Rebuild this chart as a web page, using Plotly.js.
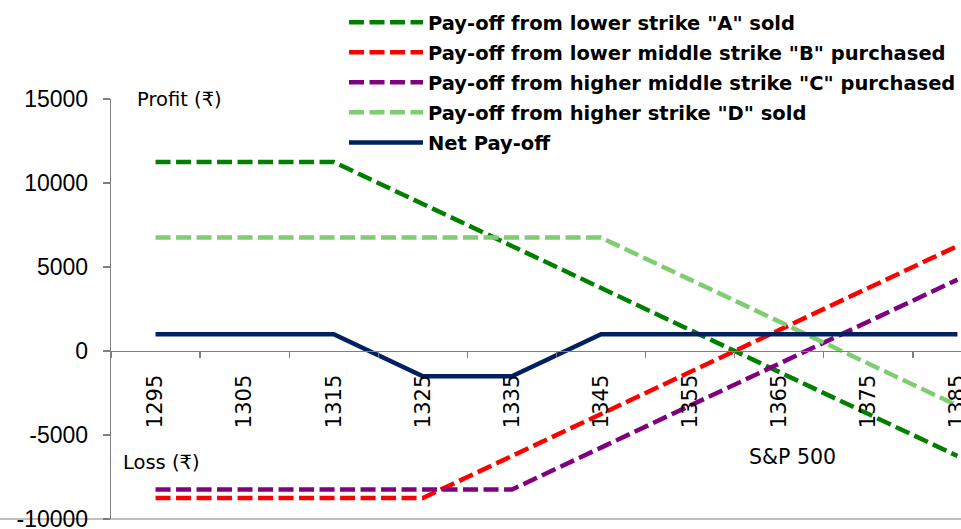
<!DOCTYPE html>
<html>
<head>
<meta charset="utf-8">
<script src="https://cdn.plot.ly/plotly-3.0.1.min.js"></script>
<style>html,body{margin:0;padding:0;background:#fff;overflow:hidden}</style>
</head>
<body>
<div id="chart" style="width:961px;height:529px"></div>
<script>
const strikes = ["1295","1305","1315","1325","1335","1345","1355","1365","1375","1385"];
const payoffA = [11250,11250,11250,8750,6250,3750,1250,-1250,-3750,-6250];
const payoffB = [-8750,-8750,-8750,-8750,-6250,-3750,-1250,1250,3750,6250];
const payoffC = [-8250,-8250,-8250,-8250,-8250,-5750,-3250,-750,1750,4250];
const payoffD = [6750,6750,6750,6750,6750,6750,4250,1750,-750,-3250];
const netPayoff = [1000,1000,1000,-1500,-1500,1000,1000,1000,1000,1000];
const seriesNames = [
  'Pay-off from lower strike "A" sold',
  'Pay-off from lower middle strike "B" purchased',
  'Pay-off from higher middle strike "C" purchased',
  'Pay-off from higher strike "D" sold',
  'Net Pay-off'
];
const yTicks = [-10000,-5000,0,5000,10000,15000];
const yTickText = ["-10000","-5000","0","5000","10000","15000"];

const dashPat = '15px,5.5px';
function tr(y, name, color, dash, w, g) {
  return {x: strikes, y: y, name: name, type: 'scatter', mode: 'lines',
    legendgroup: g, line: {color: color, width: w, dash: dash}, hoverinfo: 'skip'};
}
const data = [
  tr(payoffA, seriesNames[0], '#008000', dashPat, 4.5, 'a'),
  tr(payoffB, seriesNames[1], '#FF0000', dashPat, 4.5, 'b'),
  tr(payoffC, seriesNames[2], '#800080', dashPat, 4.5, 'c'),
  tr(payoffD, seriesNames[3], '#80CC70', dashPat, 4.5, 'd'),
  tr(netPayoff, seriesNames[4], '#002060', 'solid', 4.5, 'e')
];

const W = 850, H = 420, L = 111, T = 99;
const px = v => (v - L) / W;
const py = v => 1 - (v - T) / H;

const layout = {
  width: 961, height: 529,
  margin: {l: L, r: 0, t: T, b: 529 - T - H, pad: 0},
  paper_bgcolor: '#fff', plot_bgcolor: 'rgba(0,0,0,0)',
  showlegend: true,
  legend: {
    x: px(344), y: py(3), xanchor: 'left', yanchor: 'top',
    xref: 'paper', yref: 'paper',
    bgcolor: 'rgba(0,0,0,0)', borderwidth: 0,
    font: {family: 'DejaVu Sans', size: 19.5, color: '#000', weight: 'bold'},
    itemwidth: 74,
    tracegroupgap: 1.7, traceorder: 'grouped'
  },
  xaxis: {
    type: 'category', range: [-0.5, 9.04],
    anchor: 'free', position: 0.4,
    showline: true, linecolor: '#7f7f7f', linewidth: 1.3,
    ticks: 'outside', ticklen: 6, tickcolor: '#7f7f7f', tickwidth: 1.3,
    tickson: 'boundaries', tickangle: -90, ticklabelstandoff: 14,
    showgrid: false, zeroline: false,
    tickfont: {family: 'DejaVu Sans', size: 21, color: '#000'},
    ticklabeloverflow: 'allow',
    automargin: false
  },
  yaxis: {
    range: [-10000, 15000], tickvals: yTicks, ticktext: yTickText,
    showline: true, linecolor: '#7f7f7f', linewidth: 1.3,
    ticks: 'outside', ticklen: 7, tickcolor: '#7f7f7f', tickwidth: 1.3,
    ticklabelstandoff: 10,
    showgrid: false, zeroline: false,
    tickfont: {family: 'Liberation Sans', size: 23, color: '#000'},
    ticklabeloverflow: 'allow',
    automargin: false
  },
  shapes: [
    {type: 'line', xref: 'paper', yref: 'paper', x0: px(0), x1: px(961), y0: py(519), y1: py(519),
     line: {color: '#c0c0c0', width: 2}, layer: 'below'}
  ],
  annotations: [
    {text: 'Profit (₹)', xref: 'paper', yref: 'paper', x: px(135), y: py(99), xanchor: 'left', yanchor: 'middle',
     showarrow: false, font: {family: 'DejaVu Sans', size: 19.5, color: '#000'}},
    {text: 'Loss (₹)', xref: 'paper', yref: 'paper', x: px(121), y: py(462), xanchor: 'left', yanchor: 'middle',
     showarrow: false, font: {family: 'DejaVu Sans', size: 19.5, color: '#000'}},
    {text: 'S&P 500', xref: 'paper', yref: 'paper', x: px(747), y: py(457), xanchor: 'left', yanchor: 'middle',
     showarrow: false, font: {family: 'DejaVu Sans', size: 20.5, color: '#000'}}
  ]
};

Plotly.newPlot('chart', data, layout, {displayModeBar: false, staticPlot: true});
</script>
</body>
</html>
